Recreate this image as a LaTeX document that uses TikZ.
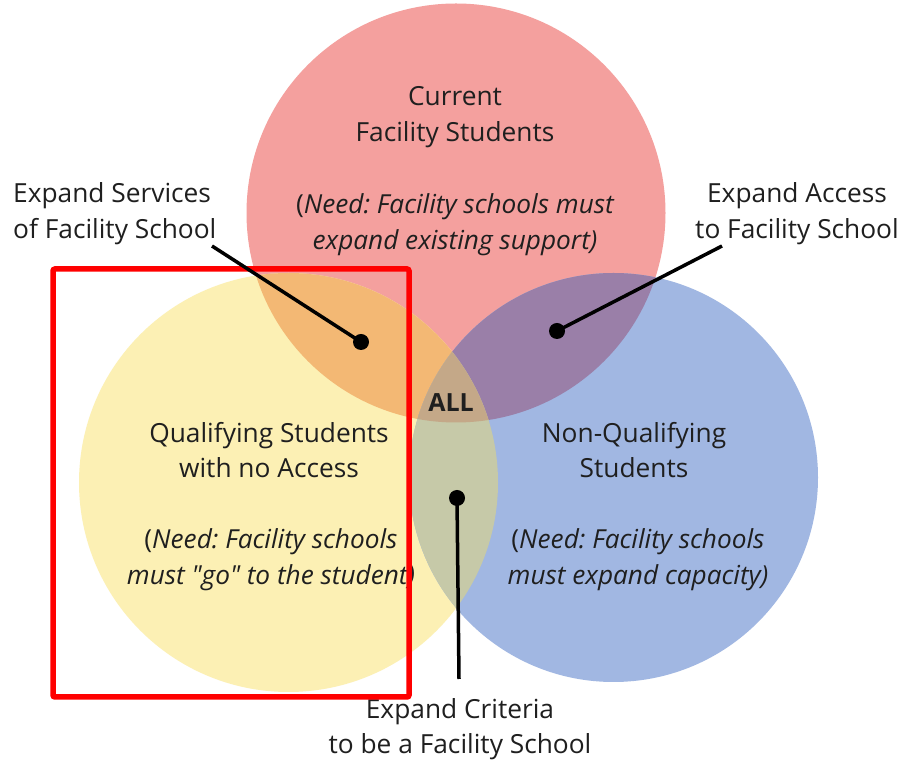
\documentclass[tikz,border=0pt]{standalone}
\usepackage{fontspec}
\setmainfont{Open Sans}[Ligatures=TeXOff]
\frenchspacing
\begin{document}
\begin{tikzpicture}[x=1pt,y=1pt,
  lbl/.style={font=\fontsize{26.3}{35.5}\selectfont, text=black!88, align=center, inner sep=0pt},
  need/.style={font=\fontsize{26.2}{36}\selectfont\itshape, text=black!88, align=center, inner sep=0pt},
  leader/.style={line width=3.5pt, black},
  dot/.style={circle, fill=black, inner sep=0pt, minimum size=16pt}]
\definecolor{cpink}{HTML}{F4A09E}
\definecolor{cyellow}{HTML}{FCF0B4}
\definecolor{cblue}{HTML}{A1B7E2}
\definecolor{corange}{HTML}{F3B874}
\definecolor{cpurple}{HTML}{9A7FA8}
\definecolor{cgreen}{HTML}{C6C9A8}
\definecolor{ctan}{HTML}{C4A888}
\useasboundingbox (0,0) rectangle (902,760);
\fill[white] (0,0) rectangle (902,760);
% circles
\coordinate (cT) at (456,547);
\coordinate (cY) at (288.5,277.5);
\coordinate (cB) at (613.5,282.5);
\fill[cpink] (cT) circle (209.5);
\fill[cyellow] (cY) circle (209.5);
\fill[cblue] (cB) circle (204.5);
\begin{scope}
  \clip (cT) circle (209.5);
  \fill[corange] (cY) circle (209.5);
\end{scope}
\begin{scope}
  \clip (cT) circle (209.5);
  \fill[cpurple] (cB) circle (204.5);
\end{scope}
\begin{scope}
  \clip (cY) circle (209.5);
  \fill[cgreen] (cB) circle (204.5);
\end{scope}
\begin{scope}
  \clip (cT) circle (209.5);
  \clip (cY) circle (209.5);
  \fill[ctan] (cB) circle (204.5);
\end{scope}
% texts
\node[lbl] (tname) at (455,643) {Current\\Facility Students};
\node[need] (tneed) at (455,535.5) {{\upshape(}Need: Facility schools must\\expand existing support)};
\node[lbl] (yname) at (269,310) {Qualifying Students\\with no Access};
\node[need] (yneed) at (271,200.5) {{\upshape(}Need: Facility schools\\must "go" to the student)};
\node[lbl] (bname) at (634,310) {Non-Qualifying\\Students};
\node[need] (bneed) at (638,200.5) {{\upshape(}Need: Facility schools\\must expand capacity)};
\node[lbl, font=\fontsize{25}{28}\selectfont\bfseries] (all) at (451,357) {ALL};
\node[lbl, align=left, anchor=west] (l1) at (13,546.5) {Expand Services\\of Facility School};
\node[lbl] (l2) at (797,546.5) {Expand Access\\to Facility School};
\node[lbl] (l3) at (460,31) {Expand Criteria\\to be a Facility School};
% red box
\draw[red, line width=5.5pt, rounded corners=2pt] (53,63) rectangle (409,491);
% leaders
\node[dot] (d1) at (361,418) {};
\node[dot] (d2) at (557,429) {};
\node[dot] (d3) at (457,262) {};
\coordinate (e1) at (212,514);
\coordinate (e2) at (722,514);
\coordinate (e3) at (459,81);
\draw[leader] (d1.center) -- (e1);
\draw[leader] (d2.center) -- (e2);
\draw[leader] (d3.center) -- (e3);
\end{tikzpicture}
\end{document}
